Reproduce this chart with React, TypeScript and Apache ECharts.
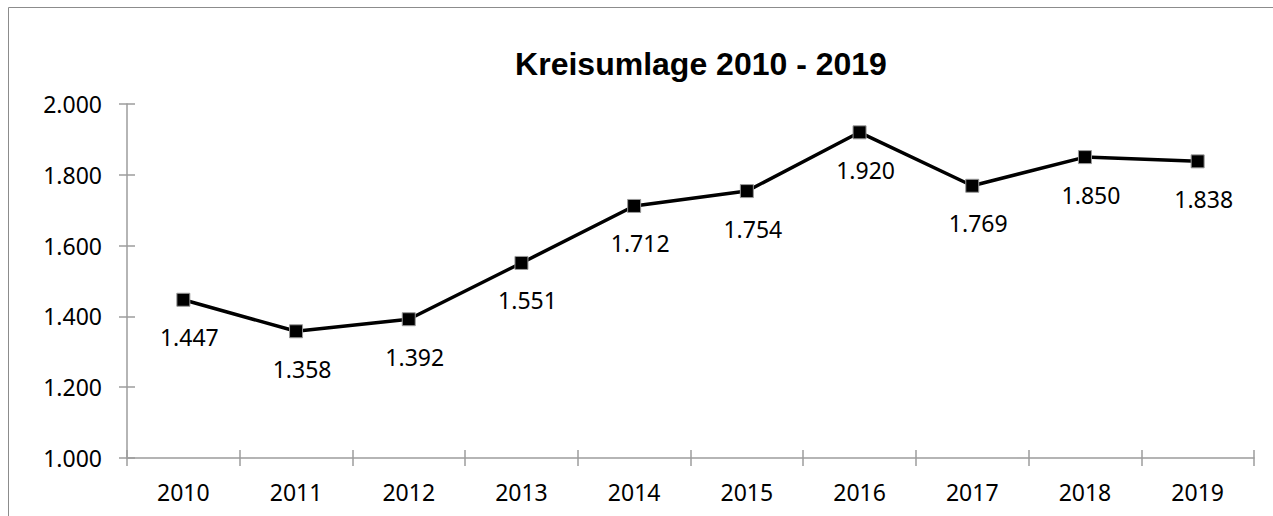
import React, { useEffect, useRef } from "react";
import * as echarts from "echarts";

const categories = ["2010", "2011", "2012", "2013", "2014", "2015", "2016", "2017", "2018", "2019"];
const values = [1447, 1358, 1392, 1551, 1712, 1754, 1920, 1769, 1850, 1838];
const yMin = 1000;
const yMax = 2000;
const yStep = 200;
const titleText = "Kreisumlage 2010 - 2019";

const fmt = (v: number) => {
  const n = Math.round(v);
  const th = Math.floor(n / 1000);
  const rest = n % 1000;
  return th > 0 ? th + "." + String(rest).padStart(3, "0") : String(rest);
};

const FONT = '"Noto Sans", "Open Sans", sans-serif';
const AXIS = "#9c9c9c";

export default function App() {
  const ref = useRef<HTMLDivElement>(null);
  useEffect(() => {
    if (!ref.current) return;
    const chart = echarts.init(ref.current, undefined, { renderer: "svg" });
    chart.setOption({
      animation: false,
      backgroundColor: "#ffffff",
      grid: { left: 127, right: 19, top: 104, bottom: 58, containLabel: false },
      graphic: [
        {
          type: "rect",
          shape: { x: 8.5, y: 7.5, width: 1400, height: 600 },
          style: { fill: "none", stroke: "#8c8c8c", lineWidth: 1 },
          silent: true,
        },
        {
          type: "text",
          x: 701,
          y: 64,
          style: {
            text: titleText,
            fontSize: 32,
            fontWeight: "bold",
            fontFamily: '"Liberation Sans", Arial, sans-serif',
            fill: "#000",
            align: "center",
            verticalAlign: "middle",
          },
          silent: true,
        },
      ],
      xAxis: [
        {
          type: "category",
          data: categories,
          boundaryGap: true,
          position: "bottom",
          axisLine: { show: true, lineStyle: { color: AXIS, width: 1.5 } },
          axisTick: { show: true, inside: false, length: 8, alignWithLabel: false, lineStyle: { color: AXIS, width: 1.5 } },
          axisLabel: { margin: 22, fontSize: 23, color: "#000", fontFamily: FONT },
          splitLine: { show: false },
        },
        {
          type: "category",
          data: categories,
          boundaryGap: true,
          position: "bottom",
          offset: 0,
          axisLine: { show: false },
          axisTick: { show: true, inside: true, length: 8, alignWithLabel: false, lineStyle: { color: AXIS, width: 1.5 } },
          axisLabel: { show: false },
          splitLine: { show: false },
        },
      ],
      yAxis: [
        {
          type: "value",
          min: yMin,
          max: yMax,
          interval: yStep,
          position: "left",
          axisLine: { show: true, lineStyle: { color: AXIS, width: 1.5 } },
          axisTick: { show: true, inside: false, length: 8, lineStyle: { color: AXIS, width: 1.5 } },
          axisLabel: { margin: 25, fontSize: 23, color: "#000", fontFamily: FONT, formatter: fmt },
          splitLine: { show: false },
        },
        {
          type: "value",
          min: yMin,
          max: yMax,
          interval: yStep,
          position: "left",
          offset: 0,
          axisLine: { show: false },
          axisTick: { show: true, inside: true, length: 8, lineStyle: { color: AXIS, width: 1.5 } },
          axisLabel: { show: false },
          splitLine: { show: false },
        },
      ],
      series: [
        {
          type: "line",
          data: values,
          xAxisIndex: 0,
          yAxisIndex: 0,
          symbol: "rect",
          symbolSize: 13,
          showAllSymbol: true,
          itemStyle: { color: "#000", borderColor: "#9a9a9a", borderWidth: 1 },
          lineStyle: { color: "#000", width: 3.5 },
          label: {
            show: true,
            position: "bottom",
            distance: 19,
            offset: [6, 0],
            fontSize: 23,
            color: "#000",
            fontFamily: FONT,
            formatter: (p: any) => fmt(p.value),
          },
        },
      ],
    });
    return () => chart.dispose();
  }, []);
  return <div ref={ref} style={{ position: "absolute", left: 0, top: 0, width: 1273, height: 516 }} />;
}
